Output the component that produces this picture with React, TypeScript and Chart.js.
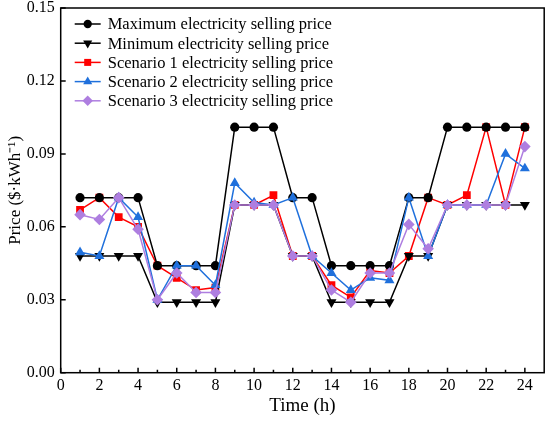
import { useEffect, useRef } from 'react'
import { Chart, registerables } from 'chart.js'

Chart.register(...registerables)

const hours = [1, 2, 3, 4, 5, 6, 7, 8, 9, 10, 11, 12, 13, 14, 15, 16, 17, 18, 19, 20, 21, 22, 23, 24]
const maxPrice = [0.072, 0.072, 0.072, 0.072, 0.044, 0.044, 0.044, 0.044, 0.101, 0.101, 0.101, 0.072, 0.072, 0.044, 0.044, 0.044, 0.044, 0.072, 0.072, 0.101, 0.101, 0.101, 0.101, 0.101]
const minPrice = [0.048, 0.048, 0.048, 0.048, 0.029, 0.029, 0.029, 0.029, 0.069, 0.069, 0.069, 0.048, 0.048, 0.029, 0.029, 0.029, 0.029, 0.048, 0.048, 0.069, 0.069, 0.069, 0.069, 0.069]
const scenario1 = [0.067, 0.072, 0.064, 0.06, 0.044, 0.039, 0.034, 0.035, 0.069, 0.069, 0.073, 0.048, 0.048, 0.036, 0.031, 0.042, 0.041, 0.048, 0.072, 0.069, 0.073, 0.101, 0.069, 0.101]
const scenario2 = [0.0495, 0.048, 0.072, 0.064, 0.03, 0.044, 0.044, 0.036, 0.078, 0.07, 0.069, 0.072, 0.048, 0.041, 0.034, 0.039, 0.038, 0.072, 0.048, 0.069, 0.069, 0.069, 0.09, 0.084]
const scenario3 = [0.065, 0.063, 0.072, 0.059, 0.03, 0.041, 0.033, 0.033, 0.069, 0.069, 0.069, 0.048, 0.048, 0.034, 0.029, 0.041, 0.041, 0.061, 0.051, 0.069, 0.069, 0.069, 0.069, 0.093]

const xTicks = [0, 2, 4, 6, 8, 10, 12, 14, 16, 18, 20, 22, 24]
const xMinorTicks = [1, 3, 5, 7, 9, 11, 13, 15, 17, 19, 21, 23]
const yTicks = [0, 0.03, 0.06, 0.09, 0.12, 0.15]

const FONT = "'Liberation Serif', 'Times New Roman', serif"

// label, colour, point style, radius, rotation, draw order
const series = [
  { label: 'Maximum electricity selling price', data: maxPrice, color: '#000000', style: 'circle', r: 4.6, rot: 0, order: 2 },
  { label: 'Minimum electricity selling price', data: minPrice, color: '#000000', style: 'triangle', r: 5.8, rot: 180, order: 3 },
  { label: 'Scenario 1 electricity selling price', data: scenario1, color: '#ff0000', style: 'rect', r: 5.5, rot: 0, order: 4 },
  { label: 'Scenario 2 electricity selling price', data: scenario2, color: '#1f70dc', style: 'triangle', r: 5.8, rot: 0, order: 1 },
  { label: 'Scenario 3 electricity selling price', data: scenario3, color: '#ae7ee0', style: 'rectRot', r: 5.8, rot: 0, order: 0 },
]

function drawMarker(ctx: CanvasRenderingContext2D, style: string, x: number, y: number, r: number, rot: number) {
  ctx.beginPath()
  if (style === 'circle') {
    ctx.arc(x, y, r, 0, Math.PI * 2)
  } else if (style === 'rect') {
    const s = r * Math.SQRT1_2
    ctx.rect(x - s, y - s, 2 * s, 2 * s)
  } else if (style === 'rectRot') {
    ctx.moveTo(x, y - r)
    ctx.lineTo(x + r, y)
    ctx.lineTo(x, y + r)
    ctx.lineTo(x - r, y)
  } else {
    const a0 = (rot * Math.PI) / 180
    for (let k = 0; k < 3; k++) {
      const a = a0 + (k * 2 * Math.PI) / 3
      const px = x + Math.sin(a) * r
      const py = y - Math.cos(a) * r
      if (k === 0) ctx.moveTo(px, py)
      else ctx.lineTo(px, py)
    }
  }
  ctx.closePath()
  ctx.fill()
}

const framePlugin = {
  id: 'frame',
  afterDatasetsDraw(chart: any) {
    const { ctx, chartArea } = chart
    const { left, right, top, bottom } = chartArea
    const xs = chart.scales.x
    const ys = chart.scales.y
    ctx.save()
    ctx.strokeStyle = '#000'
    ctx.lineWidth = 1.5
    ctx.beginPath()
    xTicks.forEach((v) => {
      const px = xs.getPixelForValue(v)
      ctx.moveTo(px, bottom)
      ctx.lineTo(px, bottom - 5)
    })
    xMinorTicks.forEach((v) => {
      const px = xs.getPixelForValue(v)
      ctx.moveTo(px, bottom)
      ctx.lineTo(px, bottom - 3)
    })
    yTicks.forEach((v) => {
      const py = ys.getPixelForValue(v)
      ctx.moveTo(left, py)
      ctx.lineTo(left + 5, py)
    })
    ctx.stroke()
    ctx.strokeRect(left, top, right - left, bottom - top)

    // legend inside the plot, line + marker + text
    ctx.font = `16.5px ${FONT}`
    ctx.textBaseline = 'middle'
    ctx.textAlign = 'left'
    series.forEach((s, i) => {
      const y = top + 16 + i * 19.2
      ctx.strokeStyle = s.color
      ctx.fillStyle = s.color
      ctx.lineWidth = 1.5
      ctx.beginPath()
      ctx.moveTo(left + 14, y)
      ctx.lineTo(left + 40, y)
      ctx.stroke()
      drawMarker(ctx, s.style, left + 27, y, s.r * 0.9, s.rot)
      ctx.fillStyle = '#000'
      ctx.fillText(s.label, left + 47, y + 1)
    })
    ctx.restore()
  },
}

export default function App() {
  const canvasRef = useRef<HTMLCanvasElement>(null)

  useEffect(() => {
    if (!canvasRef.current) return
    Chart.defaults.font.family = FONT
    Chart.defaults.color = '#000'

    const chart = new Chart(canvasRef.current, {
      type: 'line',
      data: {
        datasets: series.map((s) => ({
          label: s.label,
          data: hours.map((h, i) => ({ x: h, y: s.data[i] })),
          borderColor: s.color,
          backgroundColor: s.color,
          borderWidth: 1.5,
          pointStyle: s.style,
          pointRadius: s.r,
          pointRotation: s.rot,
          pointBorderWidth: 0,
          pointHoverRadius: s.r,
          order: s.order,
          tension: 0,
        })),
      },
      options: {
        responsive: false,
        animation: false,
        layout: { padding: { top: 8, right: 5, left: 0, bottom: 0 } },
        plugins: {
          legend: { display: false },
          tooltip: { enabled: false },
        },
        scales: {
          x: {
            type: 'linear',
            min: 0,
            max: 25,
            afterBuildTicks: (scale: any) => {
              scale.ticks = xTicks.map((v) => ({ value: v }))
            },
            afterFit: (scale: any) => {
              scale.height = 52.3
            },
            grid: { display: false, drawTicks: false },
            border: { display: false },
            ticks: {
              autoSkip: false,
              maxRotation: 0,
              padding: 3.5,
              color: '#000',
              font: { size: 16, family: FONT },
            },
            title: {
              display: true,
              text: 'Time (h)',
              color: '#000',
              font: { size: 19, family: FONT },
              padding: { top: 0, bottom: 7.6 },
            },
          },
          y: {
            type: 'linear',
            min: 0,
            max: 0.15,
            afterBuildTicks: (scale: any) => {
              scale.ticks = yTicks.map((v) => ({ value: v }))
            },
            afterFit: (scale: any) => {
              scale.width = 60.7
              scale.paddingTop = 0
              scale.paddingBottom = 0
            },
            grid: { display: false, drawTicks: false },
            border: { display: false },
            ticks: {
              padding: 6,
              color: '#000',
              font: { size: 16, family: FONT, lineHeight: 1 },
              callback: (v: any) => Number(v).toFixed(2),
            },
            title: {
              display: true,
              text: 'Price ($·kWh⁻¹)',
              color: '#000',
              font: { size: 17, family: FONT },
              padding: { top: 5, bottom: 0 },
            },
          },
        },
      },
      plugins: [framePlugin],
    })

    return () => {
      chart.destroy()
    }
  }, [])

  return (
    <div style={{ position: 'fixed', left: 0, top: 0, width: 550, height: 425, background: '#fff' }}>
      <canvas ref={canvasRef} width={550} height={425} style={{ width: 550, height: 425 }}></canvas>
    </div>
  )
}
